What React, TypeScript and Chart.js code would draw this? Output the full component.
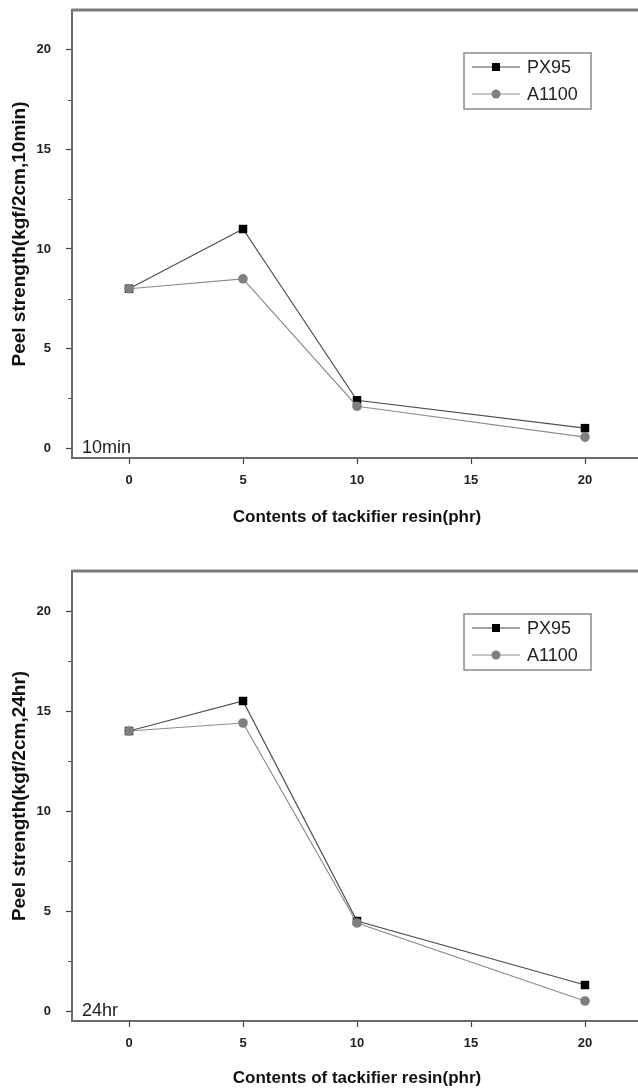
import React, { useEffect, useRef } from 'react';
import { Chart, registerables } from 'chart.js';

Chart.register(...registerables);

// ---- data ----
const contents = [0, 5, 10, 20];
const px95_10min = [8.0, 11.0, 2.4, 1.0];
const a1100_10min = [8.0, 8.5, 2.1, 0.55];
const px95_24hr = [14.0, 15.5, 4.5, 1.3];
const a1100_24hr = [14.0, 14.4, 4.4, 0.5];
const xTickValues = [0, 5, 10, 15, 20];
const yTickValues = [0, 5, 10, 15, 20];
const yMinorTickValues = [2.5, 7.5, 12.5, 17.5];
const seriesNames = ['PX95', 'A1100'];
const xTitle = 'Contents of tackifier resin(phr)';
const yTitle10 = 'Peel strength(kgf/2cm,10min)';
const yTitle24 = 'Peel strength(kgf/2cm,24hr)';
const note10 = '10min';
const note24 = '24hr';

const NARROW = '"Liberation Sans Narrow", "Liberation Sans", Arial, sans-serif';
const SANS = '"Liberation Sans", Arial, sans-serif';

const PX_LINE = '#4d4d4d';
const A_LINE = '#8c8c8c';
const PX_MARK = '#000000';
const A_MARK = '#7f7f7f';

const framePlugin = {
  id: 'frame',
  beforeDatasetsDraw(chart: any) {
    const { ctx, chartArea: a } = chart;
    ctx.save();
    ctx.strokeStyle = '#6a6a6a';
    ctx.lineWidth = 2;
    ctx.strokeRect(a.left, a.top, a.right - a.left, a.bottom - a.top);
    ctx.strokeStyle = '#7a7a7a';
    ctx.lineWidth = 3;
    ctx.beginPath();
    ctx.moveTo(a.left, a.top);
    ctx.lineTo(a.right, a.top);
    ctx.stroke();
    const y = chart.scales.y;
    ctx.strokeStyle = '#555';
    ctx.lineWidth = 1;
    for (const v of yMinorTickValues) {
      const p = Math.round(y.getPixelForValue(v)) + 0.5;
      ctx.beginPath();
      ctx.moveTo(a.left - 4, p);
      ctx.lineTo(a.left, p);
      ctx.stroke();
    }
    ctx.restore();
  },
  afterDraw(chart: any, _args: any, opts: any) {
    const { ctx, chartArea: a } = chart;
    ctx.save();
    // annotation
    ctx.fillStyle = '#222';
    ctx.font = `18px ${NARROW}`;
    ctx.textBaseline = 'alphabetic';
    ctx.textAlign = 'left';
    ctx.fillText(opts.note || '', a.left + 10, a.bottom - 5);

    // legend
    const bx = a.left + 392;
    const by = a.top + 43;
    const bw = 127;
    const bh = 56;
    ctx.fillStyle = '#fff';
    ctx.fillRect(bx, by, bw, bh);
    ctx.strokeStyle = '#8a8a8a';
    ctx.lineWidth = 1.5;
    ctx.strokeRect(bx, by, bw, bh);
    const styles = [
      { line: PX_LINE, mark: PX_MARK, shape: 'rect' },
      { line: A_LINE, mark: A_MARK, shape: 'circle' },
    ];
    seriesNames.forEach((name, i) => {
      const cy = by + 14 + i * 27;
      const st = styles[i];
      ctx.strokeStyle = st.line;
      ctx.lineWidth = 1.2;
      ctx.beginPath();
      ctx.moveTo(bx + 8, cy);
      ctx.lineTo(bx + 56, cy);
      ctx.stroke();
      ctx.fillStyle = st.mark;
      if (st.shape === 'rect') {
        ctx.fillRect(bx + 32 - 4, cy - 4, 8, 8);
      } else {
        ctx.beginPath();
        ctx.arc(bx + 32, cy, 4.5, 0, Math.PI * 2);
        ctx.fill();
      }
      ctx.fillStyle = '#222';
      ctx.font = `18px ${NARROW}`;
      ctx.textBaseline = 'middle';
      ctx.fillText(name, bx + 63, cy + 1);
    });
    ctx.restore();
  },
};

function makeConfig(px: number[], a: number[], yTitle: string, note: string, dims: any) {
  return {
    type: 'line',
    data: {
      datasets: [
        {
          label: seriesNames[0],
          data: contents.map((x, i) => ({ x, y: px[i] })),
          borderColor: PX_LINE,
          borderWidth: 1.2,
          pointStyle: 'rect',
          pointRadius: 6,
          pointBackgroundColor: PX_MARK,
          pointBorderWidth: 0,
          tension: 0,
          order: 1,
        },
        {
          label: seriesNames[1],
          data: contents.map((x, i) => ({ x, y: a[i] })),
          borderColor: A_LINE,
          borderWidth: 1.2,
          pointStyle: 'circle',
          pointRadius: 4.8,
          pointBackgroundColor: A_MARK,
          pointBorderWidth: 0,
          tension: 0,
          order: 0,
        },
      ],
    },
    options: {
      animation: false,
      responsive: false,
      devicePixelRatio: 1,
      events: [],
      layout: { padding: { top: dims.top, right: 18, left: 0, bottom: 0 } },
      plugins: {
        legend: { display: false },
        tooltip: { enabled: false },
        frame: { note },
      },
      scales: {
        x: {
          type: 'linear',
          min: -2.5,
          max: 22.5,
          afterBuildTicks: (s: any) => {
            s.ticks = xTickValues.map((v) => ({ value: v }));
          },
          afterFit: (s: any) => {
            s.height = dims.xh;
            s.paddingLeft = 0;
            s.paddingRight = 0;
          },
          grid: { drawOnChartArea: false, drawTicks: true, tickLength: 6, tickColor: '#444', tickWidth: 1.2 },
          border: { display: false },
          ticks: {
            color: '#222',
            font: { family: NARROW, size: 13, weight: 'bold' },
            padding: 9,
            maxRotation: 0,
          },
          title: {
            display: true,
            text: xTitle,
            color: '#111',
            font: { family: SANS, size: 17, weight: 'bold' },
            padding: { top: 0, bottom: dims.xtp },
          },
        },
        y: {
          type: 'linear',
          min: -0.5,
          max: 22,
          afterBuildTicks: (s: any) => {
            s.ticks = yTickValues.map((v) => ({ value: v }));
          },
          afterFit: (s: any) => {
            s.width = 72;
            s.paddingTop = 0;
            s.paddingBottom = 0;
          },
          grid: { drawOnChartArea: false, drawTicks: true, tickLength: 6, tickColor: '#444', tickWidth: 1.2 },
          border: { display: false },
          ticks: {
            color: '#222',
            font: { family: NARROW, size: 13, weight: 'bold' },
            padding: 15,
          },
          title: {
            display: true,
            text: yTitle,
            color: '#111',
            font: { family: SANS, size: 19, weight: 'bold' },
            padding: { top: 8, bottom: 0 },
          },
        },
      },
    },
    plugins: [framePlugin],
  };
}

function PeelChart({ px, a, yTitle, note, top, height, dims }: any) {
  const ref = useRef<HTMLCanvasElement | null>(null);
  useEffect(() => {
    if (!ref.current) return;
    const chart = new Chart(ref.current, makeConfig(px, a, yTitle, note, dims) as any);
    return () => chart.destroy();
  }, []);
  return (
    <canvas
      ref={ref}
      width={660}
      height={height}
      style={{ position: 'absolute', left: 0, top, width: 660, height }}
    />
  );
}

export default function App() {
  return (
    <div
      style={{
        position: 'absolute',
        left: 0,
        top: 0,
        width: 638,
        height: 1090,
        overflow: 'hidden',
        background: '#fff',
      }}
    >
      <PeelChart
        px={px95_10min}
        a={a1100_10min}
        yTitle={yTitle10}
        note={note10}
        top={0}
        height={540}
        dims={{ top: 10, xh: 82, xtp: 12 }}
      />
      <PeelChart
        px={px95_24hr}
        a={a1100_24hr}
        yTitle={yTitle24}
        note={note24}
        top={540}
        height={550}
        dims={{ top: 31, xh: 69, xtp: 1 }}
      />
    </div>
  );
}
